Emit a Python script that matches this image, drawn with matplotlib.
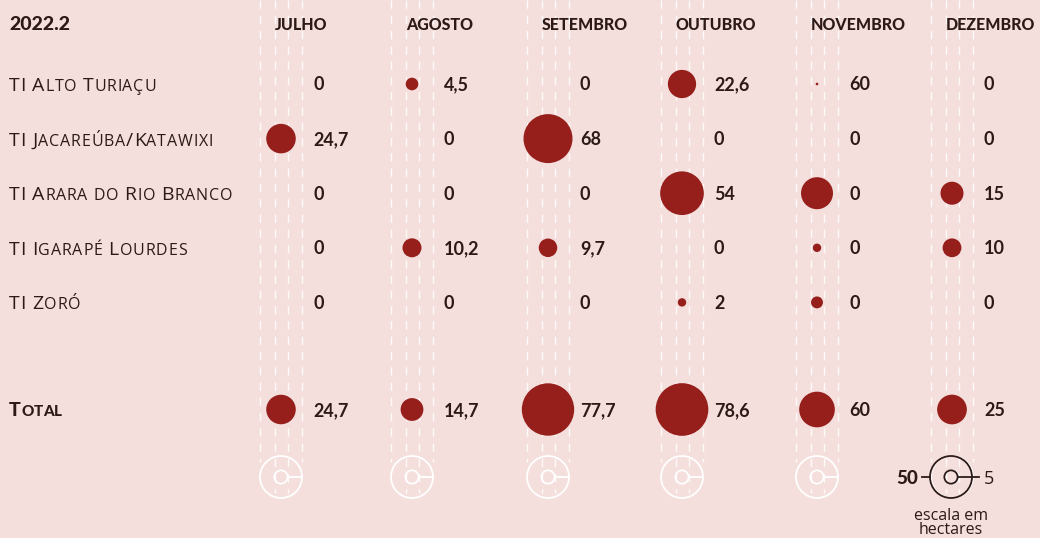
import numpy as np
import matplotlib
matplotlib.use("Agg")
import matplotlib.pyplot as plt
from matplotlib.patches import Circle
from matplotlib.lines import Line2D

# ---------------- data ----------------
title = "2022.2"
months = ["JULHO", "AGOSTO", "SETEMBRO", "OUTUBRO", "NOVEMBRO", "DEZEMBRO"]
territories = ["TI Alto Turiaçu", "TI Jacareúba/Katawixi", "TI Arara do Rio Branco",
               "TI Igarapé Lourdes", "TI Zoró"]

# printed values (hectares)
label_alto = [0, 4.5, 0, 22.6, 60, 0]
label_jaca = [24.7, 0, 68, 0, 0, 0]
label_arara = [0, 0, 0, 54, 0, 15]
label_igarape = [0, 10.2, 9.7, 0, 0, 10]
label_zoro = [0, 0, 0, 2, 0, 0]
label_total = [24.7, 14.7, 77.7, 78.6, 60, 25]

# bubble areas as drawn (hectares)
bubble_alto = [0, 4.5, 0, 22.6, 0.2, 0]
bubble_jaca = [24.7, 0, 68, 0, 0, 0]
bubble_arara = [0, 0, 0, 54, 29, 15]
bubble_igarape = [0, 10.2, 9.7, 0, 2, 10]
bubble_zoro = [0, 0, 0, 2, 4, 0]
bubble_total = [24.7, 14.7, 77.7, 78.6, 36, 25]

scale_big, scale_small = 50, 5

row_labels = [label_alto, label_jaca, label_arara, label_igarape, label_zoro]
row_bubbles = [bubble_alto, bubble_jaca, bubble_arara, bubble_igarape, bubble_zoro]

# ---------------- style / layout ----------------
BG = "#f4dfdd"
RED = "#961e1b"
TXT = "#2d1a17"
W, H = 1040, 538
col_x = [281, 412, 548, 682, 817, 952]
label_dx = 32
row_y0, row_dy = 84, 54.6
total_y = 409.5
scale_y = 477
R50 = 21.0  # pixel radius of 50 ha


def radius(v):
    return R50 * np.sqrt(v / scale_big)


def fmt(v):
    return ("%g" % v).replace(".", ",")


plt.rcParams["font.family"] = ["Open Sans", "DejaVu Sans"]
plt.rcParams["lines.scale_dashes"] = False
fig = plt.figure(figsize=(W / 100, H / 100), dpi=100, facecolor=BG)
ax = fig.add_axes([0, 0, 1, 1])
ax.set_xlim(0, W)
ax.set_ylim(H, 0)
ax.axis("off")
ax.set_facecolor(BG)
renderer = fig.canvas.get_renderer()

# dashed guide lines
for cx in col_x:
    for dx, yend in [(-R50, scale_y - 15), (-6.5, scale_y + 16), (6.5, scale_y + 16), (R50, scale_y - 15)]:
        ln = Line2D([cx + dx, cx + dx], [0, yend], color="white", lw=1.0,
                    linestyle=(0, (6, 5)), alpha=0.85, zorder=1)
        ax.add_line(ln)
    # scale circles
    ax.add_patch(Circle((cx, scale_y), radius(scale_big), fill=False, ec="white", lw=1.3, zorder=2))
    ax.add_patch(Circle((cx, scale_y), radius(scale_small), fill=False, ec="white", lw=1.3, zorder=2))
    ax.plot([cx + radius(scale_small), cx + radius(scale_big)], [scale_y, scale_y],
            color="white", lw=1.3, zorder=2)


def smallcaps(x, y, s, big, small, weight="normal", tracking=0.8, space=0.38, family="Open Sans"):
    cx = x
    for ch in s:
        if ch == " ":
            cx += big * space
            continue
        if ch.isalpha() and ch.islower():
            size, c = small, ch.upper()
        else:
            size, c = big, ch
        t = ax.text(cx, y, c, fontsize=size, fontweight=weight, color=TXT,
                    va="baseline", ha="left", family=family, zorder=5)
        bb = t.get_window_extent(renderer)
        cx += bb.width + tracking
    return cx


# title and headers
ax.text(9, 29.5, title, fontsize=14, fontweight="black", color=TXT,
        va="baseline", ha="left", family="Lato")
for cx, m in zip(col_x, months):
    ax.text(cx - 6, 29.5, m, fontsize=11.5, fontweight="black", color=TXT,
            va="baseline", ha="left", family="Lato")

# rows
for i, (name, labs, bubs) in enumerate(zip(territories, row_labels, row_bubbles)):
    y = row_y0 + i * row_dy
    smallcaps(9, y + 7, name, 14, 11.5)
    for cx, lv, bv in zip(col_x, labs, bubs):
        if bv > 0:
            ax.add_patch(Circle((cx, y), radius(bv), fc=RED, ec="none", zorder=4))
        ax.text(cx + label_dx, y + 6.5, fmt(lv), fontsize=13, fontweight="bold",
                color=TXT, va="baseline", ha="left", family="Lato", zorder=5)

# total row
smallcaps(9, total_y + 7, "Total", 14, 11, weight="black", tracking=0.3, family="Lato")
for cx, lv, bv in zip(col_x, label_total, bubble_total):
    ax.add_patch(Circle((cx, total_y), radius(bv), fc=RED, ec="none", zorder=4))
    ax.text(cx + label_dx, total_y + 6.5, fmt(lv), fontsize=13, fontweight="bold",
            color=TXT, va="baseline", ha="left", family="Lato", zorder=5)

# legend
lx = 951
ax.add_patch(Circle((lx, scale_y), radius(scale_big), fill=False, ec=TXT, lw=1.3, zorder=6))
ax.add_patch(Circle((lx, scale_y), radius(scale_small), fill=False, ec=TXT, lw=1.3, zorder=6))
ax.plot([lx + radius(scale_small), lx + 28], [scale_y, scale_y], color=TXT, lw=1.3, zorder=6)
ax.plot([lx - radius(scale_big) - 8, lx - radius(scale_big)], [scale_y, scale_y], color=TXT, lw=1.3, zorder=6)
ax.text(lx - radius(scale_big) - 12, scale_y + 6.5, str(scale_big), fontsize=13.5, fontweight="black",
        color=TXT, va="baseline", ha="right", family="Lato")
ax.text(lx + 33, scale_y + 6.5, str(scale_small), fontsize=13, fontweight="normal",
        color=TXT, va="baseline", ha="left", family="Open Sans")
ax.text(lx, 520, "escala em", fontsize=11.5, color=TXT, va="baseline", ha="center", family="Open Sans")
ax.text(lx, 534, "hectares", fontsize=11.5, color=TXT, va="baseline", ha="center", family="Open Sans")

fig.savefig("out.png", dpi=100, facecolor=BG)
